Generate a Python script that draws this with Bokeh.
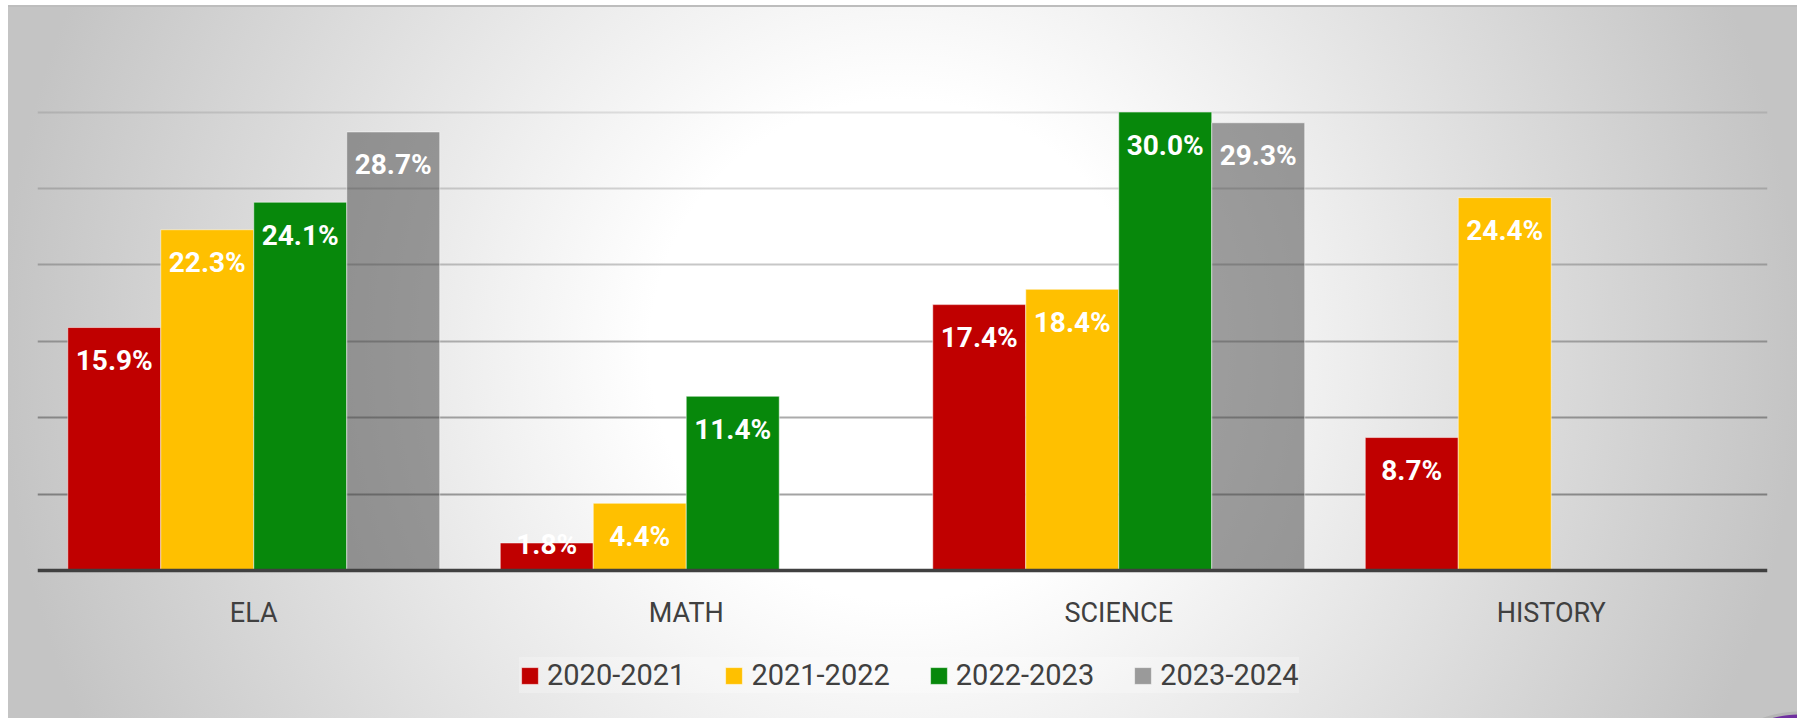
import math
from bokeh.plotting import figure
from bokeh.models import (ColumnDataSource, FactorRange, Range1d, FixedTicker,
                          Grid, Legend, LegendItem)
from bokeh.transform import dodge
from bokeh.core.properties import value
from bokeh.embed import file_html
from bokeh.resources import INLINE

# ---------------- data ----------------
categories = ["ELA", "MATH", "SCIENCE", "HISTORY"]
series_names = ["2020-2021", "2021-2022", "2022-2023", "2023-2024"]
v_2020_2021 = [15.9, 1.8, 17.4, 8.7]
v_2021_2022 = [22.3, 4.4, 18.4, 24.4]
v_2022_2023 = [24.1, 11.4, 30.0, None]
v_2023_2024 = [28.7, None, 29.3, None]
y_ticks = [0, 5, 10, 15, 20, 25, 30]

series_values = [v_2020_2021, v_2021_2022, v_2022_2023, v_2023_2024]

# ---------------- styles / layout ----------------
colors = ["#C00000", "#FFC000", "#07880B", "#404040"]
fill_alphas = [1.0, 1.0, 1.0, 0.5]
grid_alphas = [0.36, 0.33, 0.28, 0.22, 0.16, 0.10]
bar_w = 0.215
W, H = 1789, 713
TOP = 102            # px from figure top to frame top
ZERO_PX = 565        # px from figure top to the zero line
Y_END = 30.3
PX_PER_UNIT = (ZERO_PX - TOP) / Y_END
Y_START = -(H - ZERO_PX) / PX_PER_UNIT   # frame extends below the baseline to hold the legend

p = figure(width=W, height=H,
           x_range=FactorRange(factors=categories, range_padding=0),
           y_range=Range1d(Y_START, Y_END),
           output_backend="svg", toolbar_location=None,
           y_axis_location=None,
           min_border_left=29, min_border_right=30,
           min_border_top=TOP, min_border_bottom=0)

p.background_fill_alpha = 0
p.border_fill_alpha = 0
p.outline_line_color = None
p.styles = {
    "margin-left": "8px",
    "margin-top": "5px",
    "background": ("radial-gradient(circle at 1792px 819px, #7030a0 0px, #7030a0 109px, "
                   "#b4b4b4 110px, #b4b4b4 112px, rgba(0,0,0,0) 113px), "
                   "radial-gradient(circle at 892px 345px, #ffffff 250px, #c4c4c4 900px)"),
    "box-shadow": "inset 0 2px 0 #bdbdbd",
}

p.xgrid.grid_line_color = None
p.ygrid.grid_line_color = None
for t, a in zip(y_ticks[1:], grid_alphas):
    g = Grid(dimension=1, ticker=FixedTicker(ticks=[t]),
             grid_line_color="black", grid_line_alpha=a, grid_line_width=2)
    p.add_layout(g)

renderers = []
for i, (name, vals) in enumerate(zip(series_names, series_values)):
    v = [float("nan") if x is None else x for x in vals]
    labels = ["" if x is None else f"{x:.1f}%" for x in vals]
    yoff = [33 if (x is not None and x * PX_PER_UNIT > 60) else 2 for x in vals]
    src = ColumnDataSource(dict(cat=categories, val=v, label=labels, yoff=yoff))
    off = (i - 1.5) * bar_w
    r = p.vbar(x=dodge("cat", off, range=p.x_range), top="val", bottom=y_ticks[0],
               width=bar_w, source=src, fill_color=colors[i],
               fill_alpha=fill_alphas[i], line_color="white", line_alpha=0.5,
               line_width=1)
    renderers.append(r)
    p.text(x=dodge("cat", off, range=p.x_range), y="val", text="label",
           y_offset="yoff", source=src, text_align="center",
           text_baseline="middle", text_color="white",
           text_font=value("Roboto"), text_font_style="bold",
           text_font_size="28px")

ax = p.xaxis[0]
ax.fixed_location = y_ticks[0]
ax.axis_line_color = "#404040"
ax.axis_line_width = 3.5
ax.major_tick_line_color = None
ax.minor_tick_line_color = None
ax.major_label_text_font = "Roboto"
ax.major_label_text_font_size = "27px"
ax.major_label_text_color = "#404040"
ax.major_label_standoff = 20

legend = Legend(items=[LegendItem(label=n, renderers=[r]) for n, r in zip(series_names, renderers)],
                orientation="horizontal", location=(482, 25),
                glyph_width=21, glyph_height=21, label_standoff=7,
                spacing=38, label_width=136, label_height=36, padding=10,
                label_text_font="Roboto", label_text_font_size="29px",
                label_text_color="#404040",
                background_fill_color="white", background_fill_alpha=0.25,
                border_line_color=None, margin=0)
p.add_layout(legend)

open("out.html", "w").write(file_html(p, INLINE))
